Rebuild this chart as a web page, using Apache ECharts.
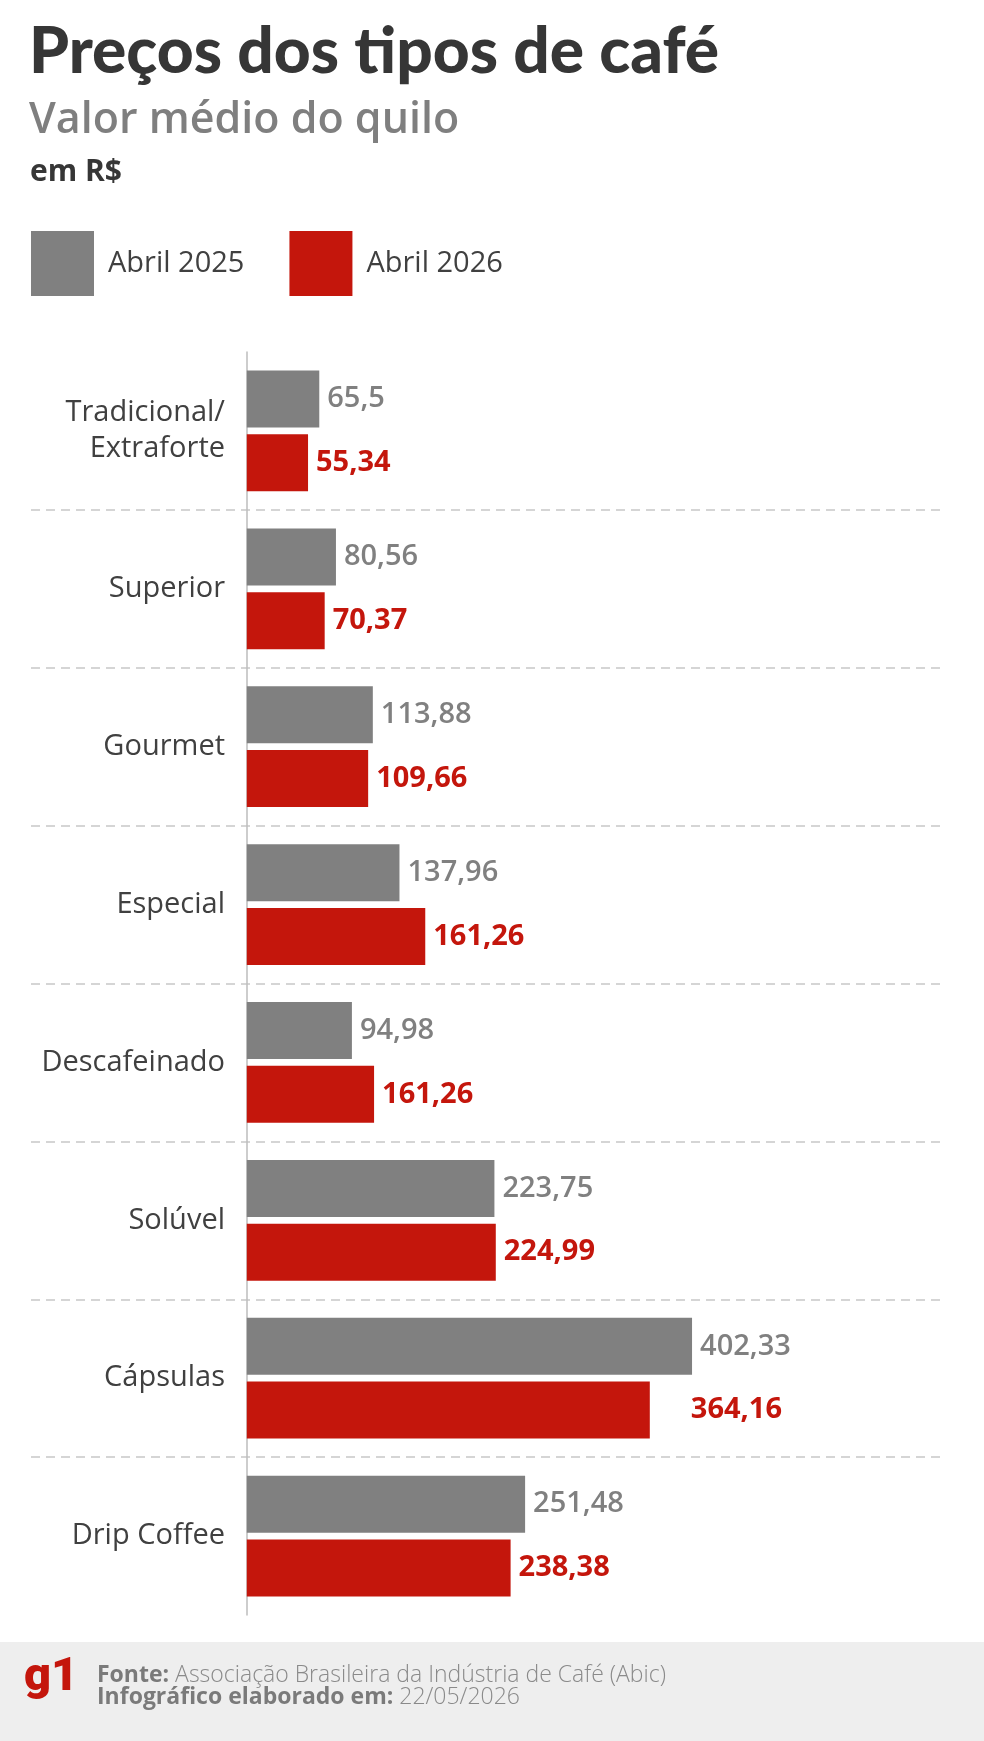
<!DOCTYPE html>
<html>
<head>
<meta charset="utf-8">
<title>Preços dos tipos de café</title>
<script src="https://cdn.jsdelivr.net/npm/echarts@6/dist/echarts.min.js"></script>
<style>
  html, body { margin: 0; padding: 0; background: #fff; }
  #chart { width: 984px; height: 1741px; }
</style>
</head>
<body>
<div id="chart"></div>
<script>
// dados
const categorias = [
  'Tradicional/\nExtraforte',
  'Superior',
  'Gourmet',
  'Especial',
  'Descafeinado',
  'Solúvel',
  'Cápsulas',
  'Drip Coffee'
];
const series = ['Abril 2025', 'Abril 2026'];

// comprimento das barras como aparecem no gráfico
const valores2025 = [65.5, 80.56, 113.88, 137.96, 94.98, 223.75, 402.33, 251.48];
const valores2026 = [55.34, 70.37, 109.66, 161.26, 115, 224.99, 364.16, 238.38];

// rótulos impressos nas barras
const rotulos2025 = ['65,5', '80,56', '113,88', '137,96', '94,98', '223,75', '402,33', '251,48'];
const rotulos2026 = ['55,34', '70,37', '109,66', '161,26', '161,26', '224,99', '364,16', '238,38'];

const CINZA = '#808080';
const VERMELHO = '#c4160c';
const FONTE = '"Open Sans", Lato, sans-serif';
const FONTE_TITULO = 'Lato, "Open Sans", sans-serif';

const chart = echarts.init(document.getElementById('chart'));

// o rótulo vermelho de Cápsulas fica mais afastado da barra
const dados2026 = valores2026.map((v, i) => (
  categorias[i] === 'Cápsulas' ? { value: v, label: { distance: 41 } } : v
));

chart.setOption({
  backgroundColor: '#ffffff',
  animation: false,
  textStyle: { fontFamily: FONTE },
  title: [
    {
      text: 'Preços dos tipos de café',
      left: 29, top: 20,
      padding: 0,
      textStyle: { fontSize: 64, fontWeight: 900, color: '#363636', fontFamily: FONTE_TITULO }
    },
    {
      text: 'Valor médio do quilo',
      left: 29, top: 99,
      padding: 0,
      textStyle: { fontSize: 43, fontWeight: 600, color: '#7f7f7f', fontFamily: FONTE }
    },
    {
      text: 'em R$',
      left: 30, top: 157,
      padding: 0,
      textStyle: { fontSize: 30, fontWeight: 700, color: '#363636', fontFamily: FONTE }
    }
  ],
  legend: {
    data: series,
    left: 31, top: 231,
    padding: 0,
    icon: 'rect',
    itemWidth: 63, itemHeight: 65,
    itemGap: 45,
    selectedMode: false,
    textStyle: { fontSize: 29, color: '#404040', padding: [0, 0, 0, 9], fontFamily: FONTE }
  },
  grid: { left: 31, right: 40, top: 352, bottom: 126, outerBoundsMode: 'none' },
  xAxis: {
    type: 'value',
    min: -195, max: 630,
    axisLine: { show: false },
    axisTick: { show: false },
    axisLabel: { show: false },
    splitLine: { show: false }
  },
  yAxis: {
    type: 'category',
    data: categorias,
    inverse: true,
    axisLine: { onZero: true, lineStyle: { color: '#bdbdbd', width: 1.5 } },
    axisTick: { show: false },
    axisLabel: {
      // rótulos ficam à esquerda da linha do zero, dentro do grid
      margin: -194,
      fontSize: 29,
      lineHeight: 36,
      color: '#404040',
      fontFamily: FONTE
    },
    splitLine: {
      show: true,
      showMinLine: false,
      showMaxLine: false,
      lineStyle: { color: '#c8c8c8', width: 1.5, type: [9, 6] }
    }
  },
  series: [
    {
      name: series[0],
      type: 'bar',
      data: valores2025,
      barWidth: 57,
      barGap: '12%',
      itemStyle: { color: CINZA },
      label: {
        show: true,
        position: 'right',
        distance: 8,
        formatter: (p) => rotulos2025[p.dataIndex],
        fontSize: 29,
        fontWeight: 600,
        color: CINZA,
        fontFamily: FONTE
      }
    },
    {
      name: series[1],
      type: 'bar',
      data: dados2026,
      barWidth: 57,
      barGap: '12%',
      itemStyle: { color: VERMELHO },
      label: {
        show: true,
        position: 'right',
        distance: 8,
        formatter: (p) => rotulos2026[p.dataIndex],
        fontSize: 29,
        fontWeight: 700,
        color: VERMELHO,
        fontFamily: FONTE
      }
    }
  ],
  graphic: [
    {
      type: 'rect',
      left: 0, bottom: 0,
      shape: { width: 984, height: 99 },
      style: { fill: '#eeeeee' },
      z: -1
    },
    {
      type: 'text',
      left: 24, top: 1655,
      style: {
        text: 'g1',
        fontSize: 47,
        fontWeight: 900,
        fill: VERMELHO,
        fontFamily: 'Roboto, Lato, sans-serif'
      }
    },
    {
      type: 'text',
      left: 97, top: 1664,
      style: {
        text: '{b|Fonte: }{r|Associação Brasileira da Indústria de Café (Abic)}\n{b|Infográfico elaborado em: }{r|22/05/2026}',
        fontFamily: FONTE,
        rich: {
          b: { fontSize: 23, fontWeight: 700, fill: '#7a7a7a', lineHeight: 22, fontFamily: FONTE },
          r: { fontSize: 23, fontWeight: 300, fill: '#8a8a8a', lineHeight: 22, fontFamily: FONTE }
        }
      }
    }
  ]
});
</script>
</body>
</html>
